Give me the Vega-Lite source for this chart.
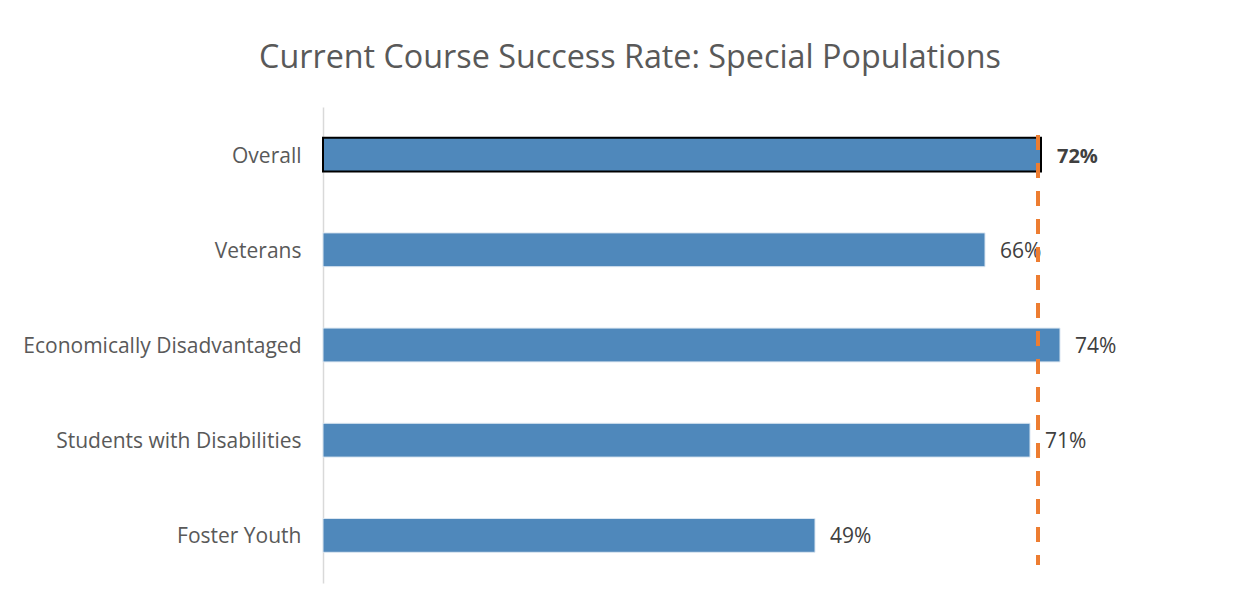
{
  "$schema": "https://vega.github.io/schema/vega-lite/v6.json",
  "width": 900,
  "height": 476,
  "autosize": {"type": "none"},
  "padding": {"left": 323, "top": 107, "right": 29, "bottom": 24},
  "background": "white",
  "config": {
    "font": "Open Sans",
    "view": {"stroke": null}
  },
  "title": {
    "text": "Current Course Success Rate: Special Populations",
    "fontSize": 32.3,
    "font": "Open Sans",
    "fontWeight": "normal",
    "color": "#595959",
    "anchor": "middle",
    "dx": -143,
    "offset": 33
  },
  "data": {
    "values": [
      {"group": "Overall", "rate": 0.718, "label": "72%"},
      {"group": "Veterans", "rate": 0.662, "label": "66%"},
      {"group": "Economically Disadvantaged", "rate": 0.737, "label": "74%"},
      {"group": "Students with Disabilities", "rate": 0.707, "label": "71%"},
      {"group": "Foster Youth", "rate": 0.492, "label": "49%"}
    ]
  },
  "layer": [
    {
      "encoding": {
        "y": {
          "field": "group",
          "type": "nominal",
          "sort": ["Overall", "Veterans", "Economically Disadvantaged", "Students with Disabilities", "Foster Youth"],
          "scale": {"paddingInner": 0.645, "paddingOuter": 0.3225},
          "axis": {
            "title": null,
            "ticks": false,
            "domainColor": "#d9d9d9",
            "domainWidth": 1.5,
            "labelFontSize": 21,
            "labelColor": "#595959",
            "labelPadding": 22,
            "labelOffset": 2,
            "labelFont": "Open Sans",
            "labelLimit": 400
          }
        },
        "x": {
          "field": "rate",
          "type": "quantitative",
          "scale": {"domain": [0, 0.9]},
          "axis": null
        }
      },
      "layer": [
        {
          "mark": {"type": "bar", "color": "#4F88BB"},
          "encoding": {
            "stroke": {
              "condition": {"test": "datum.group === 'Overall'", "value": "black"},
              "value": "#dbe6f1"
            },
            "strokeWidth": {
              "condition": {"test": "datum.group === 'Overall'", "value": 2},
              "value": 1
            }
          }
        },
        {
          "transform": [{"filter": "datum.group !== 'Overall'"}],
          "mark": {"type": "text", "align": "left", "dx": 15, "dy": 2, "fontSize": 21, "color": "#404040", "font": "Open Sans"},
          "encoding": {"text": {"field": "label"}}
        },
        {
          "transform": [{"filter": "datum.group === 'Overall'"}],
          "mark": {"type": "text", "align": "left", "dx": 16, "dy": 2, "fontSize": 20, "fontWeight": "bold", "color": "#404040", "font": "Open Sans"},
          "encoding": {"text": {"field": "label"}}
        }
      ]
    },
    {
      "mark": {"type": "rule", "color": "#ED7D31", "strokeWidth": 4, "strokeDash": [15, 13]},
      "encoding": {
        "x": {"datum": 0.715, "type": "quantitative"},
        "y": {"datum": 0.059, "type": "quantitative", "scale": {"domain": [0, 1], "reverse": true}, "axis": null},
        "y2": {"datum": 0.962}
      }
    }
  ],
  "resolve": {"scale": {"y": "independent"}, "axis": {"y": "independent"}}
}
